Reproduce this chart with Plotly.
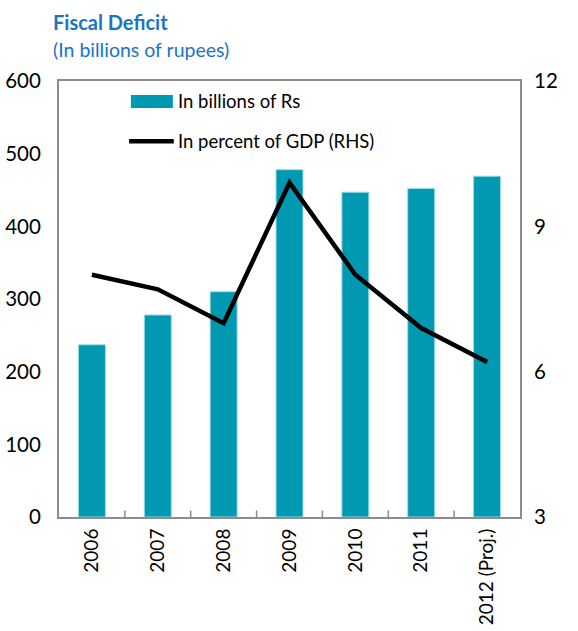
import plotly.graph_objects as go

# Fiscal deficit: level (billions of rupees) and share of GDP
years = ["2006", "2007", "2008", "2009", "2010", "2011", "2012 (Proj.)"]
deficit_bn = [237, 278, 310, 478, 447, 452, 469]
deficit_pct_gdp = [8.0, 7.7, 7.0, 9.9, 8.0, 6.9, 6.2]

left_ticks = [0, 100, 200, 300, 400, 500, 600]
right_ticks = [3, 6, 9, 12]

BAR_COLOR = "#0099B2"
FONT = "Lato, 'Open Sans', sans-serif"
AXIS_GRAY = "#8c8c8c"
TITLE_BLUE = "#1a74c6"

fig = go.Figure()
fig.add_trace(go.Bar(
    x=years, y=deficit_bn, name="In billions of Rs",
    marker=dict(color=BAR_COLOR, line=dict(color="#9fdbe6", width=1)),
    width=0.41, yaxis="y", showlegend=False,
))
fig.add_trace(go.Scatter(
    x=years, y=deficit_pct_gdp, name="In percent of GDP (RHS)",
    mode="lines", line=dict(color="black", width=4.5),
    yaxis="y2", showlegend=False,
))

# Legend drawn as swatches plus labels inside the plot area
fig.add_shape(type="rect", xref="paper", yref="paper",
              x0=0.156, x1=0.247, y0=0.938, y1=0.968,
              fillcolor=BAR_COLOR, line=dict(width=0))
fig.add_shape(type="line", xref="paper", yref="paper",
              x0=0.152, x1=0.249, y0=0.862, y1=0.862,
              line=dict(color="black", width=4.5))
fig.add_annotation(text="In billions of Rs", xref="paper", yref="paper",
                   x=0.254, y=0.954, xanchor="left", yanchor="middle",
                   showarrow=False, font=dict(size=18.5, color="black", family=FONT))
fig.add_annotation(text="In percent of GDP (RHS)", xref="paper", yref="paper",
                   x=0.254, y=0.862, xanchor="left", yanchor="middle",
                   showarrow=False, font=dict(size=18.5, color="black", family=FONT))

# Title block
fig.add_annotation(text="<b>Fiscal Deficit</b>", xref="paper", yref="paper",
                   x=-0.017, y=1.135, xanchor="left", yanchor="middle",
                   showarrow=False, font=dict(size=20, color=TITLE_BLUE, family=FONT))
fig.add_annotation(text="(In billions of rupees)", xref="paper", yref="paper",
                   x=-0.017, y=1.073, xanchor="left", yanchor="middle",
                   showarrow=False, font=dict(size=19.5, color=TITLE_BLUE, family=FONT))

fig.update_layout(
    width=578, height=631,
    margin=dict(l=59, r=58, t=81, b=114),
    paper_bgcolor="white", plot_bgcolor="white",
    font=dict(family=FONT, size=20, color="black"),
    bargap=0.59,
    xaxis=dict(
        type="category", tickangle=-90, showgrid=False, automargin=False,
        showline=True, linecolor=AXIS_GRAY, linewidth=2, mirror=True,
        ticks="", tickfont=dict(size=19), ticklabelstandoff=2,
    ),
    yaxis=dict(
        range=[0, 600], tickvals=left_ticks, showgrid=False, automargin=False,
        showline=True, linecolor=AXIS_GRAY, linewidth=2,
        ticks="", zeroline=False, tickfont=dict(size=20.5),
        ticklabelstandoff=12,
    ),
    yaxis2=dict(
        range=[3, 12], tickvals=right_ticks, overlaying="y", side="right",
        showgrid=False, showline=True, linecolor=AXIS_GRAY, linewidth=2,
        automargin=False,
        ticks="", zeroline=False, tickfont=dict(size=20.5),
        ticklabelstandoff=8,
    ),
)

# Inward tick marks at category boundaries along the base
for i in range(1, len(years)):
    fig.add_shape(type="line", xref="x", yref="paper",
                  x0=i - 0.5, x1=i - 0.5, y0=0, y1=0.015,
                  line=dict(color=AXIS_GRAY, width=1.5))

fig.write_html("out.html")
